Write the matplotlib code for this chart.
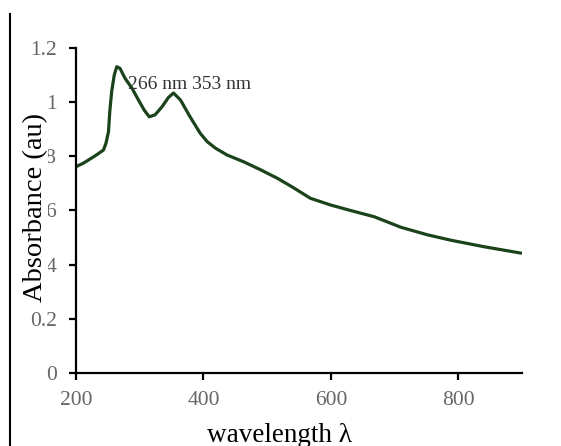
import matplotlib
matplotlib.use("Agg")
from matplotlib import pyplot as plt
from matplotlib.lines import Line2D

# UV-Vis absorbance spectrum
wavelength = [200, 211, 222, 232, 243, 247, 251, 253, 256, 260, 264, 269,
              277, 288, 298, 307, 315, 324, 335, 345, 353, 364, 379, 395,
              406, 419, 437, 463, 490, 516, 540, 568, 600, 631, 668, 710,
              752, 789, 841, 900]
absorbance = [0.762, 0.774, 0.790, 0.805, 0.823, 0.848, 0.891, 0.965, 1.039,
              1.100, 1.131, 1.125, 1.088, 1.051, 1.008, 0.971, 0.946, 0.953,
              0.983, 1.017, 1.034, 1.008, 0.946, 0.885, 0.854, 0.830, 0.805,
              0.780, 0.750, 0.719, 0.686, 0.645, 0.620, 0.600, 0.577, 0.538,
              0.510, 0.490, 0.466, 0.442]

x_ticks = [200, 400, 600, 800]
y_ticks = [0, 0.2, 0.4, 0.6, 0.8, 1.0, 1.2]
y_tick_labels = ["0", "0.2", "0.4", "0.6", "0.8", "1", "1.2"]
peak_text = "266 nm 353 nm"

plt.rcParams['font.family'] = ['Liberation Serif', 'DejaVu Serif']

fig = plt.figure(figsize=(5.61, 4.46), dpi=100)
ax = fig.add_axes([76/561, 73/446, 446/561, 325/446])

ax.plot(wavelength, absorbance, color='#1b431b', lw=2.3,
        solid_joinstyle='round', solid_capstyle='butt')

ax.set_xlim(200, 900)
ax.set_ylim(0, 1.2)
ax.set_xticks(x_ticks)
ax.set_yticks(y_ticks)
ax.set_yticklabels(y_tick_labels)

for side in ['top', 'right']:
    ax.spines[side].set_visible(False)
for side in ['left', 'bottom']:
    ax.spines[side].set_linewidth(1.6)
    ax.spines[side].set_color('black')

ax.tick_params(axis='both', direction='out', length=5, width=1.6,
               labelsize=15.5, labelcolor='#666666')
ax.tick_params(axis='y', pad=9)
ax.tick_params(axis='x', pad=8)

ax.text(282, 1.064, peak_text, fontsize=14, color='#333333', va='center', ha='left')

ax.set_xlabel("wavelength λ", fontsize=19.5, color='black')
ax.xaxis.set_label_coords(0.457, -0.155)
ax.set_ylabel("Absorbance (au)", fontsize=20.5, color='black',
              bbox=dict(facecolor='white', edgecolor='none', pad=0))
ax.yaxis.set_label_coords(-0.063, 0.51)

# frame line on the left edge
fig.add_artist(Line2D([10/561, 10/561], [0, 1 - 14/446], color='black', lw=1.5))

fig.savefig("out.png", dpi=100)
